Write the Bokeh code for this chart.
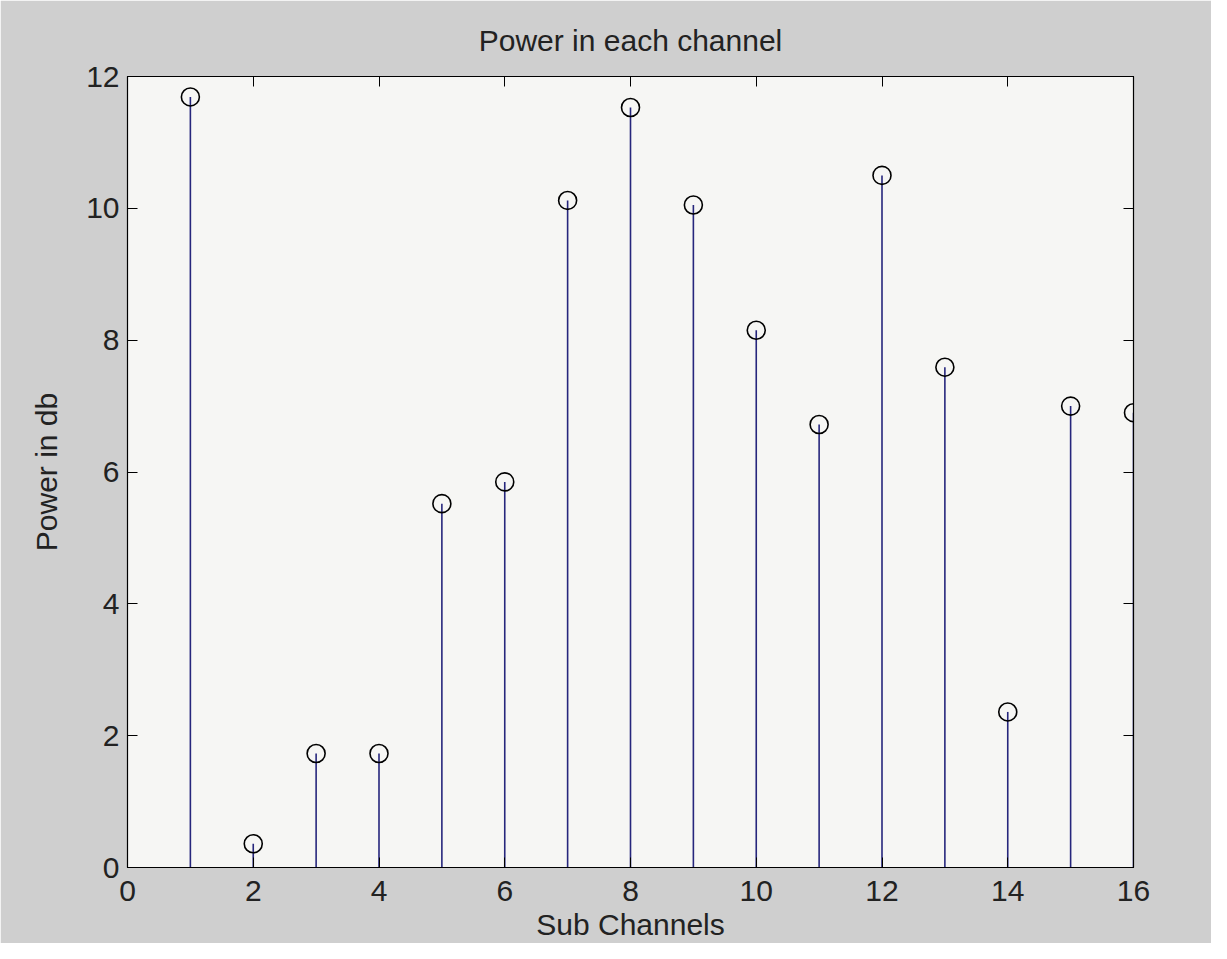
from bokeh.plotting import figure
from bokeh.models import LinearAxis, Range1d, FixedTicker, ColumnDataSource
from bokeh.embed import file_html
from bokeh.resources import INLINE

# Data
channels = list(range(1, 17))
power_db = [11.69, 0.36, 1.73, 1.73, 5.52, 5.85, 10.12, 11.53,
            10.05, 8.15, 6.72, 10.50, 7.59, 2.36, 7.00, 6.90]
x_ticks = [0, 2, 4, 6, 8, 10, 12, 14, 16]
y_ticks = [0, 2, 4, 6, 8, 10, 12]
title_text = "Power in each channel"
x_label = "Sub Channels"
y_label = "Power in db"

FONT = "Liberation Sans"
FS = "30px"
TXT = "#222222"

src = ColumnDataSource(dict(x=channels, y=power_db, base=[0] * len(channels)))

p = figure(width=1211, height=943, output_backend="svg", toolbar_location=None,
           x_range=Range1d(0, 16), y_range=Range1d(0, 12),
           min_border_left=127, min_border_right=78, min_border_top=76, min_border_bottom=75,
           title=title_text)

p.background_fill_color = "#f6f6f4"
p.border_fill_color = "#cfcfcf"
p.outline_line_color = "black"
p.outline_line_width = 1.2

p.title.text_font = FONT
p.title.text_font_size = FS
p.title.text_font_style = "normal"
p.title.align = "center"
p.title.text_color = TXT
p.title.offset = 0
p.title.standoff = 40

p.xgrid.grid_line_color = None
p.ygrid.grid_line_color = None

def style_axis(ax, show_labels=True):
    ax.axis_line_color = "black"
    ax.major_tick_line_color = "black"
    ax.major_tick_in = 10
    ax.major_tick_out = 0
    ax.minor_tick_line_color = None
    ax.major_label_text_font = FONT
    ax.major_label_text_color = TXT
    ax.axis_label_text_font = FONT
    ax.axis_label_text_font_size = FS
    ax.axis_label_text_font_style = "normal"
    ax.axis_label_text_color = TXT
    if show_labels:
        ax.major_label_text_font_size = FS
    else:
        ax.major_label_text_font_size = "0px"
        ax.major_label_standoff = 0

xa = p.xaxis[0]
ya = p.yaxis[0]
xa.ticker = FixedTicker(ticks=x_ticks)
ya.ticker = FixedTicker(ticks=y_ticks)
xa.axis_label = x_label
ya.axis_label = y_label
style_axis(xa)
style_axis(ya)
xa.major_label_standoff = 13
xa.axis_label_standoff = 4
ya.major_label_standoff = 8
ya.axis_label_standoff = 20

top = LinearAxis(ticker=FixedTicker(ticks=x_ticks))
right = LinearAxis(ticker=FixedTicker(ticks=y_ticks))
style_axis(top, False)
style_axis(right, False)
p.add_layout(top, "above")
p.add_layout(right, "right")

p.segment(x0="x", y0="base", x1="x", y1="y", source=src,
          line_color="#26267c", line_width=1.6)
p.scatter(x="x", y="y", source=src, marker="circle", size=18,
          fill_color=None, line_color="black", line_width=1.6)

open("out.html", "w").write(file_html(p, INLINE))
